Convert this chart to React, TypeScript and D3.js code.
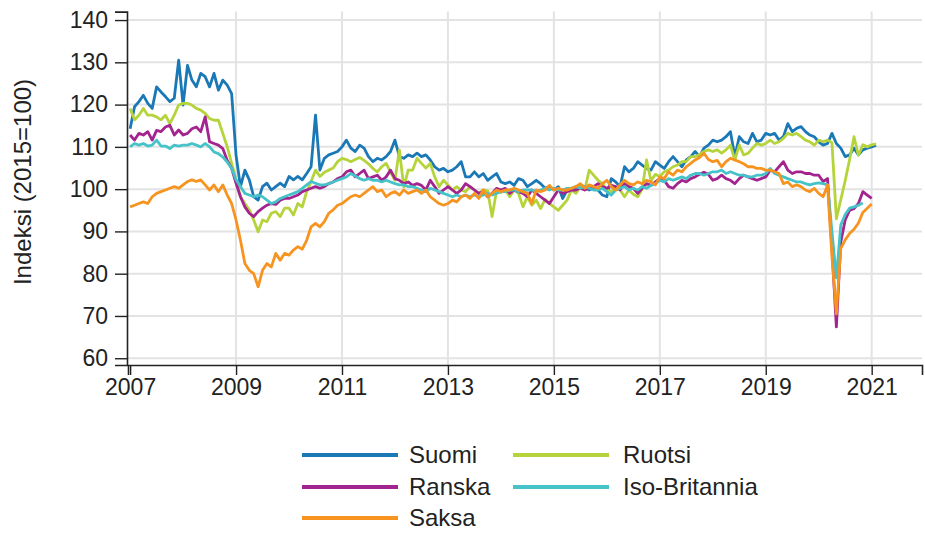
import * as d3 from "d3";
import { useEffect, useRef } from "react";

// monthly index values, first point = 2007-01
const suomi = [
  114.3, 119.5, 120.7, 122.2, 120.3, 119.1, 124.2, 123.0, 121.9, 120.7, 121.5, 130.5,
  119.9, 129.3, 125.8, 124.2, 127.4, 126.6, 124.2, 127.4, 123.4, 125.8, 124.6, 122.6,
  108.0, 100.6, 104.5, 102.2, 98.2, 97.4, 100.6, 101.4, 99.8, 100.6, 101.4, 100.6,
  103.0, 102.2, 103.0, 102.2, 103.7, 105.3, 117.5, 104.5, 107.3, 108.1, 108.5, 108.9,
  110.0, 111.6, 109.7, 108.9, 110.4, 109.7, 107.7, 106.5, 107.3, 106.9, 107.7, 108.9,
  111.6, 107.7, 107.3, 108.1, 107.7, 108.5, 107.7, 108.1, 106.9, 105.3, 104.5, 104.9,
  104.1, 104.5, 105.3, 106.5, 102.9, 102.9, 104.1, 102.9, 103.7, 102.1, 102.9, 103.7,
  101.7, 101.3, 101.7, 100.9, 102.5, 102.1, 100.6, 101.3, 102.1, 101.3, 100.2, 100.6,
  99.8, 100.6, 97.8, 99.8, 100.2, 100.2, 100.9, 100.6, 99.8, 100.2, 99.8, 98.6,
  98.2, 102.5, 101.7, 100.6, 105.3, 104.1, 104.9, 106.5, 105.7, 104.9, 104.5, 106.5,
  105.7, 104.9, 106.5, 107.7, 106.5, 105.3, 106.9, 107.7, 108.9, 107.7, 109.7, 110.4,
  111.6, 111.2, 111.6, 112.4, 113.6, 107.7, 112.4, 111.2, 110.8, 113.2, 111.2, 111.6,
  113.2, 112.8, 113.2, 111.6, 112.4, 115.5, 113.6, 114.4, 114.8, 113.6, 112.8, 112.4,
  111.2, 110.4, 110.8, 113.2, 110.8, 109.7, 107.7, 108.1, 109.7, 108.1, 109.3, 109.7,
  110.0, 110.4,
];

const ruotsi = [
  119.1, 116.4, 117.5, 119.1, 117.5, 117.5, 117.1, 116.4, 117.5, 115.5, 117.5, 119.9,
  120.3, 120.3, 119.9, 119.1, 118.7, 117.9, 116.7, 116.3, 116.3, 113.2, 110.0, 106.1,
  102.2, 98.2, 96.6, 95.1, 92.7, 89.9, 92.7, 92.3, 94.3, 94.7, 93.5, 95.5,
  95.5, 93.9, 96.6, 95.8, 99.4, 101.8, 104.5, 103.0, 104.0, 104.5, 105.0, 106.5,
  107.3, 107.0, 106.5, 107.0, 107.5, 106.8, 106.0, 104.9, 104.1, 105.3, 106.1, 104.0,
  102.1, 109.3, 100.5, 104.5, 104.5, 107.3, 106.1, 105.0, 106.1, 102.9, 100.6, 102.1,
  101.0, 99.8, 100.6, 99.8, 99.4, 100.6, 99.8, 99.0, 99.8, 99.6, 93.5, 99.5,
  99.2, 99.8, 98.2, 99.8, 99.0, 95.8, 98.2, 96.2, 97.4, 95.4, 97.6, 96.6,
  95.8, 95.0, 96.2, 97.4, 99.8, 99.0, 100.6, 99.8, 104.5, 103.3, 102.1, 101.3,
  99.8, 99.4, 100.6, 99.8, 98.2, 99.8, 98.8, 98.2, 100.0, 106.9, 102.0, 103.5,
  103.0, 104.1, 104.5, 105.3, 105.7, 106.5, 106.5, 107.7, 107.7, 108.2, 108.9, 109.3,
  108.9, 109.3, 108.5, 109.3, 110.4, 106.9, 110.4, 108.1, 108.5, 109.7, 110.8, 110.4,
  110.8, 111.6, 110.8, 111.2, 112.0, 113.2, 112.8, 113.2, 112.4, 111.6, 111.2, 110.4,
  111.6, 111.2, 111.6, 111.0, 93.0, 97.5, 102.0, 107.0, 112.4, 108.0, 110.5, 110.0,
  110.5, 110.7,
];

const ranska = [
  112.8, 111.6, 113.2, 112.8, 113.6, 111.6, 113.9, 113.6, 114.7, 115.1, 112.8, 114.0,
  112.8, 113.2, 114.3, 114.7, 113.6, 117.1, 111.2, 110.8, 110.4, 109.6, 106.8, 104.9,
  101.4, 98.2, 95.8, 94.3, 93.5, 94.7, 95.5, 96.2, 96.6, 96.4, 97.4, 97.8,
  97.8, 98.2, 98.6, 99.4, 99.8, 100.2, 100.6, 100.2, 100.6, 101.3, 101.7, 102.5,
  102.9, 104.1, 104.5, 102.9, 103.7, 104.5, 102.5, 102.9, 103.3, 102.1, 102.9, 104.5,
  102.5, 102.1, 101.3, 101.7, 100.9, 101.3, 100.9, 99.8, 102.1, 100.6, 99.0, 99.8,
  100.6, 99.8, 99.0, 99.8, 101.3, 100.6, 99.8, 99.0, 99.4, 98.2, 99.0, 100.2,
  99.8, 100.2, 99.0, 99.8, 99.4, 99.0, 98.2, 99.8, 99.0, 98.2, 97.4, 96.6,
  98.2, 99.8, 99.0, 99.4, 99.8, 99.8, 100.2, 99.8, 100.2, 100.6, 101.3, 100.6,
  100.2, 100.9, 100.6, 99.8, 101.3, 100.6, 100.2, 99.0, 100.2, 101.3, 100.9, 101.7,
  102.5, 102.1, 100.6, 100.2, 101.3, 102.1, 101.7, 102.5, 102.9, 103.5, 104.0, 103.5,
  102.1, 102.5, 103.3, 102.5, 102.1, 101.3, 102.5, 103.3, 102.9, 102.5, 102.1, 102.5,
  102.9, 104.5, 104.1, 105.3, 106.5, 104.5, 103.7, 104.1, 104.1, 103.7, 103.7, 103.3,
  103.3, 101.8, 102.5, 86.0, 67.4, 87.5, 92.7, 95.0, 95.4, 96.6, 99.4, 98.6,
  97.8,
];

const saksa = [
  95.8, 96.2, 96.6, 97.0, 96.6, 98.2, 99.0, 99.4, 99.8, 100.2, 100.6, 100.2,
  101.0, 101.8, 102.2, 101.8, 102.2, 101.0, 99.8, 101.0, 99.4, 101.0, 98.6, 96.6,
  92.7, 87.9, 82.4, 80.8, 80.0, 76.9, 80.8, 82.4, 81.6, 84.8, 83.2, 84.8,
  84.4, 85.6, 86.4, 85.8, 87.9, 91.1, 91.9, 91.1, 92.3, 94.3, 95.1, 96.2,
  96.6, 97.4, 98.2, 98.6, 98.2, 99.0, 99.8, 100.6, 99.4, 99.8, 98.2, 99.0,
  99.4, 98.6, 99.8, 99.0, 99.4, 99.8, 99.0, 99.8, 98.2, 97.4, 96.6, 96.2,
  96.6, 97.4, 97.0, 98.2, 98.6, 97.8, 99.0, 97.8, 99.8, 98.2, 99.0, 99.8,
  99.4, 99.8, 99.8, 100.2, 99.8, 99.4, 99.0, 96.6, 99.8, 99.4, 99.8, 100.9,
  99.8, 100.2, 99.8, 99.8, 100.2, 100.6, 101.3, 100.2, 101.0, 100.6, 100.2, 101.3,
  102.1, 100.6, 99.8, 101.0, 102.1, 101.3, 101.0, 101.7, 101.3, 102.1, 101.7, 101.0,
  102.9, 102.5, 104.1, 103.3, 104.5, 104.1, 105.3, 106.1, 106.9, 107.5, 108.5, 107.0,
  106.5, 106.8, 105.3, 106.5, 107.3, 106.9, 106.5, 106.0, 105.3, 105.3, 104.9, 104.9,
  104.5, 104.5, 104.1, 103.7, 101.3, 101.7, 100.6, 101.0, 100.6, 99.8, 99.4, 100.2,
  99.0, 98.2, 101.0, 84.0, 70.5, 86.0, 88.0, 89.5, 90.5, 92.0, 94.5, 95.5,
  96.5,
];

const isoBritannia = [
  110.0, 110.8, 110.4, 110.8, 110.2, 110.4, 111.6, 110.2, 110.2, 109.6, 110.4, 110.2,
  110.4, 110.4, 110.8, 110.4, 110.0, 110.8, 110.0, 108.8, 108.4, 107.6, 106.4, 104.9,
  102.2, 100.6, 99.0, 98.6, 98.2, 98.6, 98.2, 97.4, 96.6, 97.0, 97.8, 98.2,
  98.6, 99.0, 99.4, 100.2, 101.0, 101.8, 101.4, 101.0, 101.0, 101.3, 101.7, 102.1,
  102.5, 102.9, 103.7, 103.1, 102.5, 102.1, 102.5, 102.1, 102.1, 101.7, 102.1, 101.7,
  101.3, 101.0, 101.0, 100.6, 100.6, 100.2, 99.8, 99.4, 100.2, 99.8, 99.4, 99.0,
  98.6, 98.2, 98.6, 98.2, 98.6, 98.2, 98.6, 98.2, 98.6, 99.0, 98.6, 99.0,
  99.4, 99.4, 99.8, 99.8, 99.4, 99.8, 99.8, 99.8, 99.4, 99.8, 100.2, 99.8,
  100.2, 99.8, 99.8, 100.2, 100.2, 100.6, 100.2, 100.6, 100.2, 99.8, 99.8, 100.2,
  99.4, 98.6, 99.8, 100.2, 100.6, 99.8, 100.2, 99.8, 100.6, 100.2, 100.9, 101.3,
  102.1, 101.7, 102.5, 102.1, 102.5, 102.9, 102.5, 103.3, 103.7, 103.7, 103.3, 103.7,
  104.1, 104.1, 104.5, 103.7, 104.1, 103.7, 103.3, 103.3, 102.9, 102.9, 103.3, 103.3,
  103.7, 104.9, 103.7, 103.3, 102.9, 102.5, 102.1, 101.7, 101.7, 101.3, 101.0, 101.3,
  101.5, 101.3, 101.0, 90.0, 79.0, 91.5, 94.0, 95.5, 95.8, 96.2, 96.7,
];

const yTicks = [60, 70, 80, 90, 100, 110, 120, 130, 140];
const xTicks = [2007, 2009, 2011, 2013, 2015, 2017, 2019, 2021];

const series = [
  { name: "Suomi", values: suomi, color: "#1a78b6" },
  { name: "Ruotsi", values: ruotsi, color: "#b5d33a" },
  { name: "Ranska", values: ranska, color: "#a3238f" },
  { name: "Iso-Britannia", values: isoBritannia, color: "#45c3c8" },
  { name: "Saksa", values: saksa, color: "#f7941f" },
];

const font = "'Liberation Sans', Arial, sans-serif";

const App = () => {
  const ref = useRef(null);

  useEffect(() => {
    const svg = d3.select(ref.current);
    svg.selectAll("*").remove();

    const x = d3.scaleLinear().domain([2006.96, 2021.95]).range([128, 922]);
    const y = d3.scaleLinear().domain([58.4, 142]).range([365, 11.6]);

    // grid
    const grid = svg.append("g");
    grid.selectAll(".hg")
      .data(yTicks)
      .enter()
      .append("line")
      .attr("x1", 128).attr("x2", 922)
      .attr("y1", d => y(d)).attr("y2", d => y(d))
      .style("stroke", "#e3e3e3")
      .style("stroke-width", 2);
    grid.selectAll(".vg")
      .data(xTicks.slice(1))
      .enter()
      .append("line")
      .attr("x1", d => x(d)).attr("x2", d => x(d))
      .attr("y1", y(142)).attr("y2", 365)
      .style("stroke", "#e3e3e3")
      .style("stroke-width", 2);

    // lines
    const line = d3.line()
      .x((d, i) => x(2007 + i / 12))
      .y(d => y(d));
    series.forEach(s => {
      svg.append("path")
        .datum(s.values)
        .attr("d", line)
        .style("fill", "none")
        .style("stroke", s.color)
        .style("stroke-width", 2.8)
        .style("stroke-linejoin", "round");
    });

    // axes
    const yAxis = svg.append("g")
      .attr("transform", "translate(127,0)")
      .call(d3.axisLeft(y).tickValues(yTicks).tickSize(12).tickPadding(7));
    const xAxis = svg.append("g")
      .attr("transform", "translate(0,365)")
      .call(d3.axisBottom(x).tickValues(xTicks).tickFormat(d3.format("d")).tickSize(10).tickPadding(4));
    [yAxis, xAxis].forEach(g => {
      g.select(".domain").style("stroke", "#222").style("stroke-width", 1.6);
      g.selectAll(".tick line").style("stroke", "#222").style("stroke-width", 1.4);
      g.selectAll(".tick text")
        .style("font-family", font)
        .style("font-size", "23px")
        .style("fill", "#222");
    });

    svg.append("text")
      .attr("transform", "translate(31,182) rotate(-90)")
      .style("text-anchor", "middle")
      .style("font-family", font)
      .style("font-size", "24px")
      .style("fill", "#222")
      .text("Indeksi (2015=100)");

    // legend
    const legendPos = [
      { name: "Suomi", x: 302, y: 455 },
      { name: "Ruotsi", x: 513, y: 455 },
      { name: "Ranska", x: 302, y: 487 },
      { name: "Iso-Britannia", x: 513, y: 487 },
      { name: "Saksa", x: 302, y: 518 },
    ];
    legendPos.forEach(p => {
      const s = series.find(d => d.name === p.name);
      svg.append("line")
        .attr("x1", p.x).attr("x2", p.x + 96)
        .attr("y1", p.y).attr("y2", p.y)
        .style("stroke", s.color)
        .style("stroke-width", 4);
      svg.append("text")
        .attr("x", p.x === 302 ? 409 : 623)
        .attr("y", p.y)
        .attr("dy", "0.35em")
        .style("font-family", font)
        .style("font-size", "24px")
        .style("fill", "#222")
        .text(p.name);
    });
  }, []);

  return (
    <svg ref={ref} width={925} height={534} style={{ position: "absolute", left: 0, top: 0, background: "#fff" }}></svg>
  );
};

export default App;
